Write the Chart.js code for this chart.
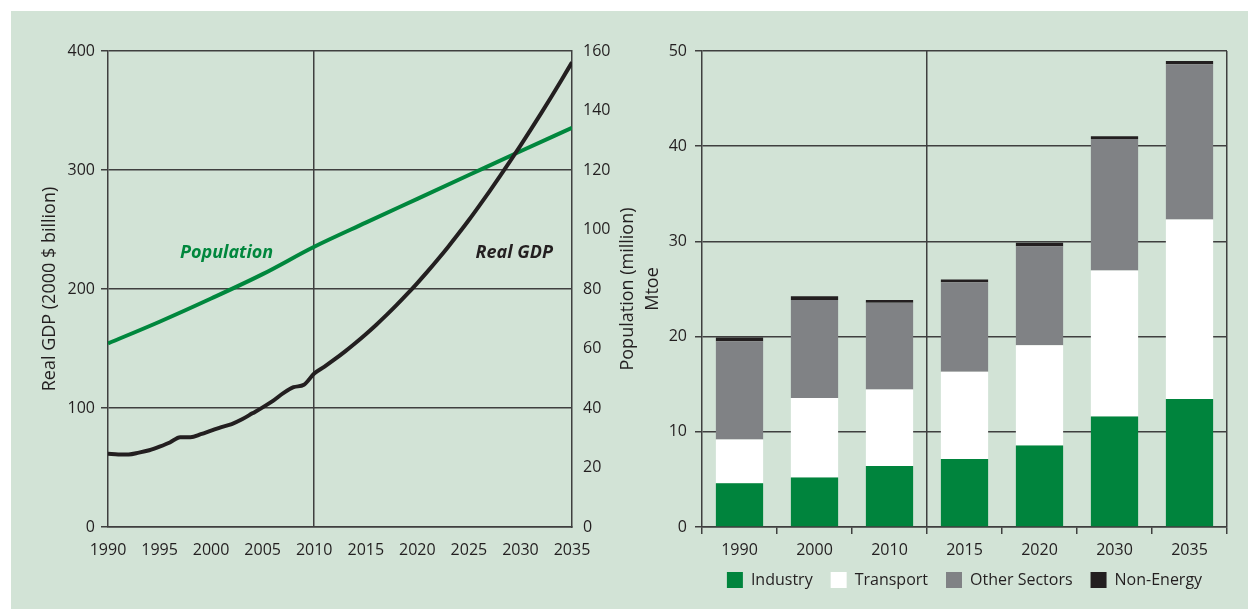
<!DOCTYPE html>
<html>
<head>
<meta charset="utf-8">
<script src="https://cdn.jsdelivr.net/npm/chart.js@4.4.1/dist/chart.umd.min.js"></script>
<style>
  body { margin: 0; background: #fff; }
  #panel { position: absolute; left: 11px; top: 11px; width: 1237px; height: 598px; background: #d2e3d6; }
  #gdpChart { position: absolute; left: 0; top: 0; }
  #energyChart { position: absolute; left: 629px; top: 0; }
</style>
</head>
<body>
<div id="panel">
  <canvas id="gdpChart" width="640" height="598"></canvas>
  <canvas id="energyChart" width="607" height="598"></canvas>
</div>
<script>
// Left panel: real GDP (left axis) and population (right axis)
const gdpYears = [1990, 1991, 1992, 1993, 1994, 1995, 1996, 1997, 1998, 1999,
  2000, 2001, 2002, 2003, 2004, 2005, 2006, 2007, 2008, 2009,
  2010, 2011, 2012, 2013, 2014, 2015, 2016, 2017, 2018, 2019,
  2020, 2021, 2022, 2023, 2024, 2025, 2026, 2027, 2028, 2029,
  2030, 2031, 2032, 2033, 2034, 2035];
const realGdp = [61.5, 61, 61, 62.5, 64.5, 67.5, 71, 75.5, 75.5, 78,
  81, 84, 86.5, 90.5, 95.5, 100.5, 106, 112.5, 117.5, 119.5,
  129, 134.8, 141, 147.6, 154.6, 162, 169.8, 178, 186.6, 195.6,
  205, 214.8, 225, 235.6, 246.6, 258, 269.9, 282.1, 294.6, 307.4,
  320.5, 333.9, 347.6, 361.6, 375.9, 390.5];
const popYears = [1990, 1995, 2000, 2005, 2010, 2015, 2020, 2025, 2030, 2035];
const population = [61.7, 69, 76.8, 85, 94.2, 102.3, 110.3, 118.3, 126.3, 134.2];

// Right panel: final consumption by sector (Mtoe)
const sectorYears = ["1990", "2000", "2010", "2015", "2020", "2030", "2035"];
const industry = [4.6, 5.2, 6.4, 7.15, 8.55, 11.6, 13.45];
const transport = [4.6, 8.35, 8.05, 9.15, 10.55, 15.35, 18.85];
const otherSectors = [10.3, 10.3, 9.1, 9.4, 10.4, 13.8, 16.3];
const nonEnergy = [0.4, 0.4, 0.3, 0.3, 0.35, 0.3, 0.35];

const textColor = "#231f20";
const gridColor = "#3f3f3f";
const green = "#00873d";

Chart.defaults.font.family = '"Open Sans", sans-serif';
Chart.defaults.font.size = 16;
Chart.defaults.color = textColor;
Chart.defaults.animation = false;

// Series labels and the right-hand axis title (reads bottom to top)
const gdpLabels = {
  id: "gdpLabels",
  afterDatasetsDraw(chart) {
    const { ctx, scales: { x, y, y2 }, chartArea } = chart;
    ctx.save();
    ctx.font = 'italic bold 18px "Open Sans"';
    ctx.textAlign = "center";
    ctx.textBaseline = "middle";
    ctx.fillStyle = green;
    ctx.fillText("Population", x.getPixelForValue(2001.5), y.getPixelForValue(230));
    ctx.fillStyle = textColor;
    ctx.fillText("Real GDP", x.getPixelForValue(2029.4), y.getPixelForValue(230));
    ctx.font = '18px "Open Sans"';
    ctx.translate(y2.left + 56, (chartArea.top + chartArea.bottom) / 2);
    ctx.rotate(-Math.PI / 2);
    ctx.fillText("Population (million)", 0, 0);
    ctx.restore();
  }
};

// the x tick labels are clipped to their axis box, so the legend is lifted a little instead
const legendLift = {
  id: "legendLift",
  afterLayout(chart) {
    chart.legend.top -= 7;
    chart.legend.bottom -= 7;
  }
};

new Chart(document.getElementById("gdpChart"), {
  type: "line",
  data: {
    datasets: [
      {
        label: "Real GDP",
        data: gdpYears.map((yr, i) => ({ x: yr, y: realGdp[i] })),
        yAxisID: "y",
        borderColor: textColor,
        borderWidth: 4,
        pointRadius: 0,
        cubicInterpolationMode: "monotone"
      },
      {
        label: "Population",
        data: popYears.map((yr, i) => ({ x: yr, y: population[i] })),
        yAxisID: "y2",
        borderColor: green,
        borderWidth: 4,
        pointRadius: 0,
        cubicInterpolationMode: "monotone"
      }
    ]
  },
  options: {
    responsive: false,
    layout: { padding: { left: 0, right: 0, top: 40, bottom: 42 } },
    plugins: { legend: { display: false }, tooltip: { enabled: false } },
    scales: {
      x: {
        type: "linear",
        min: 1990,
        max: 2035,
        ticks: { stepSize: 5, padding: 14, maxRotation: 0, callback: v => String(v) },
        grid: {
          drawTicks: false,
          lineWidth: 1.5,
          color: c => (c.tick && c.tick.value === 2010 ? gridColor : "transparent")
        },
        border: { color: gridColor, width: 1.5 },
        afterFit: s => { s.height = 40; }
      },
      y: {
        position: "left",
        min: 0,
        max: 400,
        ticks: { stepSize: 100, padding: 6 },
        grid: { color: gridColor, tickColor: gridColor, lineWidth: 1.5, tickLength: 7 },
        border: { color: gridColor, width: 1.5 },
        title: {
          display: true,
          text: "Real GDP (2000 $ billion)",
          font: { size: 18 },
          padding: { top: 28, bottom: 0 }
        },
        afterFit: s => { s.width = 97; }
      },
      y2: {
        position: "right",
        min: 0,
        max: 160,
        ticks: { stepSize: 20, padding: 11 },
        grid: { display: false, drawTicks: false },
        border: { color: gridColor, width: 1.5 },
        afterFit: s => { s.width = 79; }
      }
    }
  },
  plugins: [gdpLabels]
});

new Chart(document.getElementById("energyChart"), {
  type: "bar",
  data: {
    labels: sectorYears,
    datasets: [
      { label: "Industry", data: industry, backgroundColor: "#00843d" },
      { label: "Transport", data: transport, backgroundColor: "#ffffff" },
      { label: "Other Sectors", data: otherSectors, backgroundColor: "#808285" },
      { label: "Non-Energy", data: nonEnergy, backgroundColor: "#231f20" }
    ]
  },
  options: {
    responsive: false,
    datasets: { bar: { barPercentage: 0.63, categoryPercentage: 1, borderWidth: 0 } },
    layout: { padding: { left: 0, right: 20, top: 40, bottom: 4 } },
    plugins: {
      tooltip: { enabled: false },
      legend: {
        position: "bottom",
        fullSize: false,
        labels: { boxWidth: 16, boxHeight: 16, padding: 18, color: textColor }
      }
    },
    scales: {
      x: {
        stacked: true,
        ticks: { padding: 7 },
        grid: {
          offset: true,
          lineWidth: 1.5,
          tickLength: 7,
          tickColor: gridColor,
          color: c => (c.type === "scale" || c.index === 3 ? gridColor : "transparent")
        },
        border: { color: gridColor, width: 1.5 },
        afterFit: s => { s.height = 34; }
      },
      y: {
        stacked: true,
        min: 0,
        max: 50,
        ticks: { stepSize: 10, padding: 8 },
        grid: { color: gridColor, tickColor: gridColor, lineWidth: 1.5, tickLength: 7 },
        border: { color: gridColor, width: 1.5 },
        title: { display: true, text: "Mtoe", font: { size: 18 }, padding: { top: 2, bottom: 0 } },
        afterFit: s => { s.width = 62; }
      }
    }
  },
  plugins: [legendLift]
});
</script>
</body>
</html>
